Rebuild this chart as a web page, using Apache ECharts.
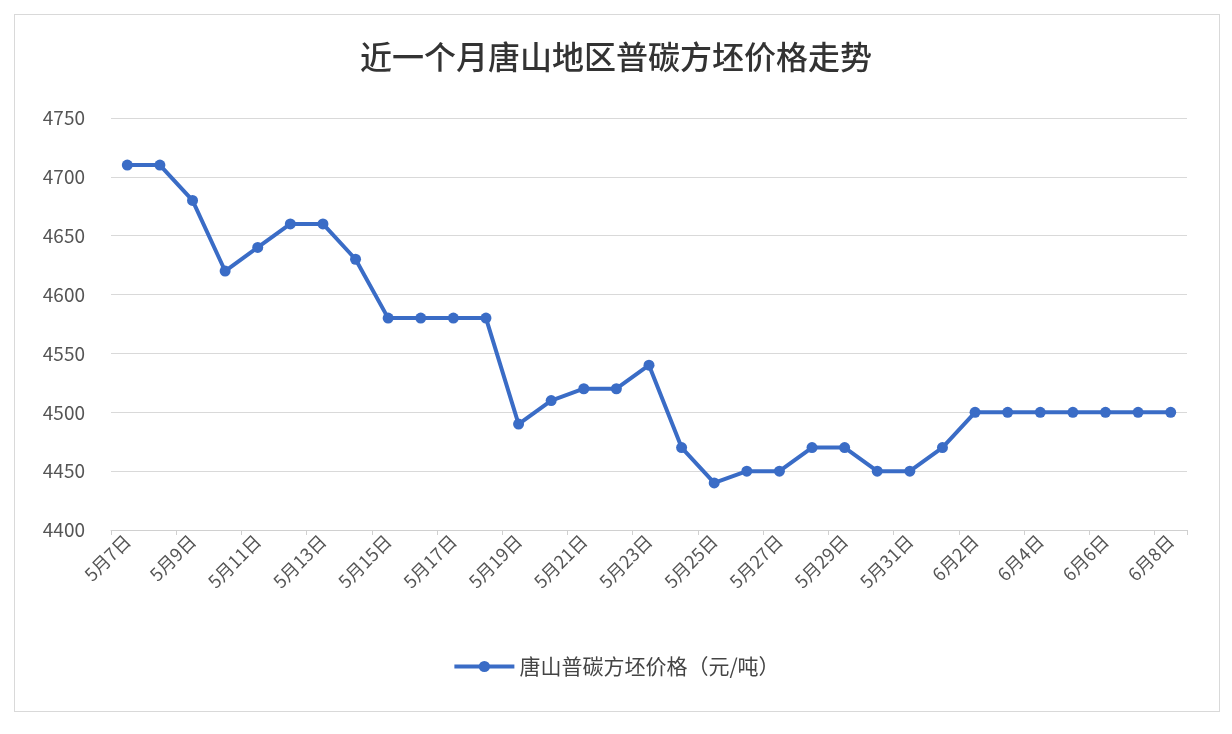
<!DOCTYPE html>
<html><head><meta charset="utf-8">
<script src="https://cdn.jsdelivr.net/npm/echarts@6/dist/echarts.min.js"></script>
<style>html,body{margin:0;padding:0;background:#fff}#c{width:1232px;height:734px}
#frame{position:absolute;left:14px;top:14px;width:1204px;height:696px;border:1px solid #d9d9d9;pointer-events:none}</style>
</head><body><div id="c"></div><div id="frame"></div>
<script>
var dates = ['5月7日','5月8日','5月9日','5月10日','5月11日','5月12日','5月13日','5月14日','5月15日','5月16日','5月17日','5月18日','5月19日','5月20日','5月21日','5月22日','5月23日','5月24日','5月25日','5月26日','5月27日','5月28日','5月29日','5月30日','5月31日','6月1日','6月2日','6月3日','6月4日','6月5日','6月6日','6月7日','6月8日'];
var prices = [4710,4710,4680,4620,4640,4660,4660,4630,4580,4580,4580,4580,4490,4510,4520,4520,4540,4470,4440,4450,4450,4470,4470,4450,4450,4470,4500,4500,4500,4500,4500,4500,4500];

var chart = echarts.init(document.getElementById('c'));
chart.setOption({
    textStyle: {fontFamily: 'Noto Sans CJK SC'},
    title: {
        text: '近一个月唐山地区普碳方坯价格走势',
        left: 'center', top: 36,
        textStyle: {fontSize: 32, fontWeight: 500, color: '#333'}
    },
    legend: {
        bottom: 52,
        itemWidth: 60, itemHeight: 14,
        textStyle: {fontSize: 21, color: '#444'},
        data: [{name: '唐山普碳方坯价格（元/吨）', itemStyle: {}, lineStyle: {width: 4}}]
    },
    grid: {left: 111, right: 45, top: 118, bottom: 204},
    xAxis: {
        type: 'category',
        data: dates,
        boundaryGap: true,
        axisLine: {lineStyle: {color: '#d0d0d0'}},
        axisTick: {show: true, interval: 1, lineStyle: {color: '#d0d0d0'}},
        axisLabel: {interval: 1, rotate: 45, fontSize: 18, color: '#555'}
    },
    yAxis: {
        type: 'value',
        min: 4400, max: 4750, interval: 50,
        axisLine: {show: false},
        axisTick: {show: false},
        axisLabel: {fontSize: 19, color: '#555', margin: 26, formatter: function (v) { return String(v); }},
        splitLine: {lineStyle: {color: '#d9d9d9'}}
    },
    series: [{
        name: '唐山普碳方坯价格（元/吨）',
        type: 'line',
        data: prices,
        symbol: 'circle', symbolSize: 11,
        lineStyle: {width: 4, color: '#3a6cc6'},
        itemStyle: {color: '#3a6cc6'}
    }]
});
</script></body></html>
